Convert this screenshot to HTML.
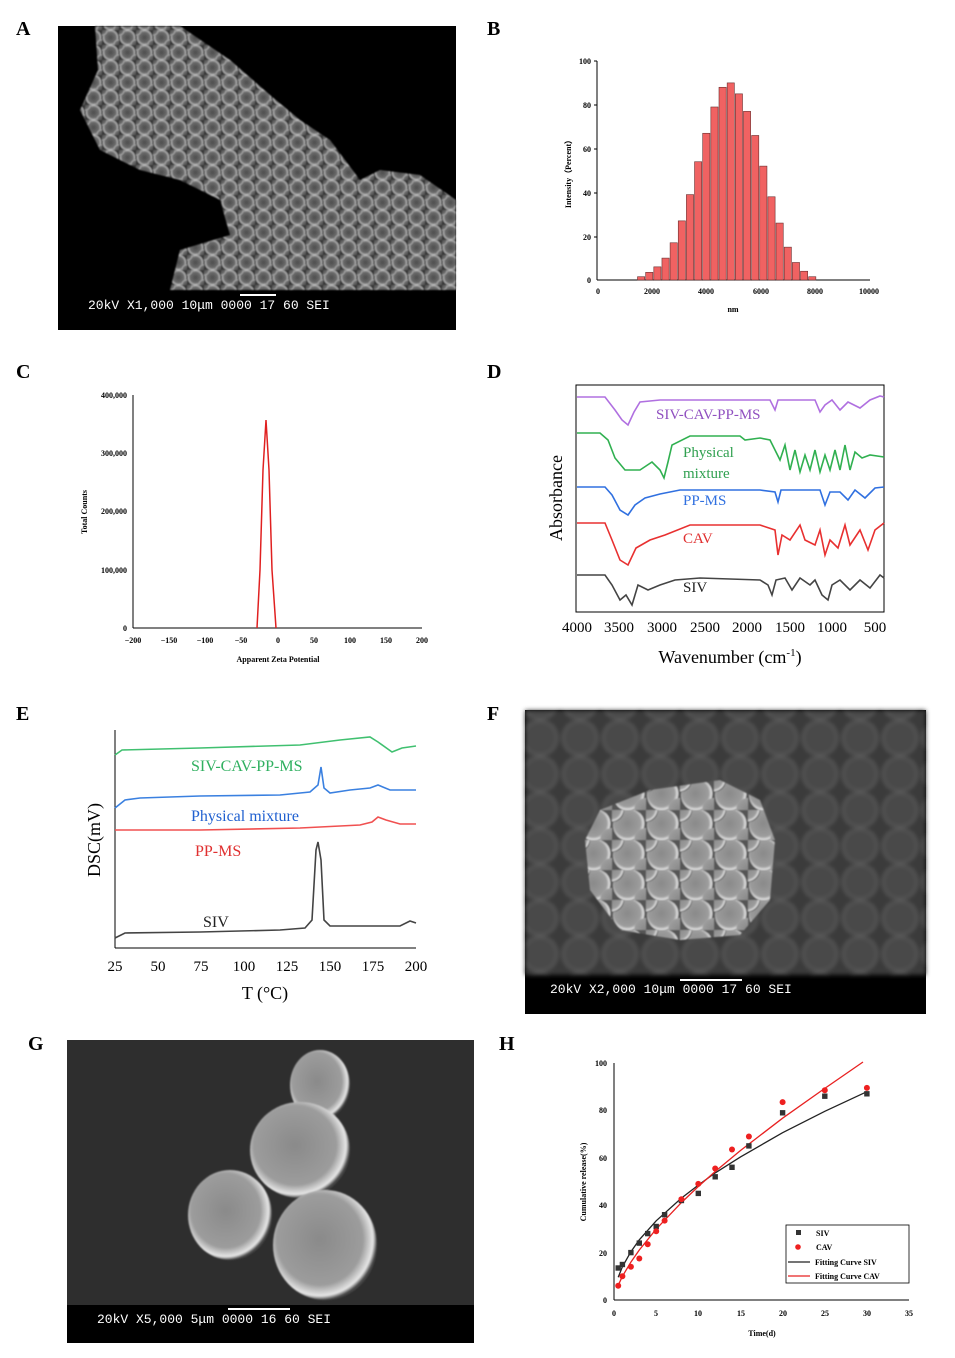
<!DOCTYPE html>
<html><head><meta charset="utf-8"><style>
body{margin:0;background:#fff}
svg{display:block}
text{font-family:"Liberation Serif",serif}
.m{font-family:"Liberation Mono",monospace;fill:#fff;font-size:13px}
.t{font-size:8px;font-weight:bold}
</style></head><body>
<svg width="955" height="1358" viewBox="0 0 955 1358" xmlns="http://www.w3.org/2000/svg">
<defs>
<filter id="bl"><feGaussianBlur stdDeviation="0.9"/></filter>
<filter id="bl2"><feGaussianBlur stdDeviation="2"/></filter>
<radialGradient id="sph" cx="0.5" cy="0.5" r="0.5"><stop offset="0" stop-color="#555"/><stop offset="0.7" stop-color="#7a7a7a"/><stop offset="0.92" stop-color="#d8d8d8"/><stop offset="1" stop-color="#333"/></radialGradient>
<radialGradient id="sph2" cx="0.45" cy="0.45" r="0.55"><stop offset="0" stop-color="#8a8a8a"/><stop offset="0.75" stop-color="#9c9c9c"/><stop offset="0.93" stop-color="#e6e6e6"/><stop offset="1" stop-color="#444"/></radialGradient>
<pattern id="pA" width="17" height="15" patternUnits="userSpaceOnUse"><rect width="17" height="15" fill="#3a3a3a"/><circle cx="8.5" cy="7.5" r="8" fill="url(#sph)"/><circle cx="0" cy="0" r="6" fill="url(#sph)"/><circle cx="17" cy="15" r="6" fill="url(#sph)"/></pattern>
<pattern id="pF" width="34" height="30" patternUnits="userSpaceOnUse"><rect width="34" height="30" fill="#555"/><circle cx="17" cy="15" r="16" fill="url(#sph2)"/><circle cx="0" cy="0" r="12" fill="url(#sph2)"/><circle cx="34" cy="30" r="12" fill="url(#sph2)"/></pattern>
<pattern id="pF2" width="40" height="36" patternUnits="userSpaceOnUse"><rect width="40" height="36" fill="#3a3a3a"/><circle cx="20" cy="18" r="17" fill="#4a4a4a" stroke="#5c5c5c" stroke-width="2"/></pattern>
</defs>

<g font-size="20" font-weight="bold" font-family="Liberation Serif">
<text x="16" y="35">A</text><text x="487" y="35">B</text>
<text x="16" y="378">C</text><text x="487" y="378">D</text>
<text x="16" y="720">E</text><text x="487" y="720">F</text>
<text x="28" y="1050">G</text><text x="499" y="1050">H</text>
</g>

<!-- A SEM -->
<rect x="58" y="26" width="398" height="304" fill="#000"/>
<polygon filter="url(#bl)" points="95,26 180,26 230,60 270,95 300,120 330,140 360,180 380,170 420,175 456,200 456,290 170,290 180,250 230,235 220,200 180,180 140,170 100,150 80,110 98,70" fill="url(#pA)" opacity="0.9"/>
<rect x="240" y="294" width="36" height="2" fill="#fff"/>
<text class="m" x="88" y="309">20kV   X1,000  10μm 0000 17 60 SEI</text>

<!-- B histogram -->
<g stroke="#000" stroke-width="1" fill="none">
<line x1="597" y1="61" x2="597" y2="280"/><line x1="597" y1="280" x2="870" y2="280"/>
<line x1="594" y1="61" x2="597" y2="61"/><line x1="594" y1="105" x2="597" y2="105"/><line x1="594" y1="149" x2="597" y2="149"/><line x1="594" y1="193" x2="597" y2="193"/><line x1="594" y1="237" x2="597" y2="237"/>
</g>
<g fill="#f06262" stroke="#6a3030" stroke-width="0.6" id="bars"></g>
<g class="t" text-anchor="end"><text x="591" y="64">100</text><text x="591" y="108">80</text><text x="591" y="152">60</text><text x="591" y="196">40</text><text x="591" y="240">20</text><text x="591" y="283">0</text></g>
<g class="t" text-anchor="middle"><text x="598" y="294">0</text><text x="652" y="294">2000</text><text x="706" y="294">4000</text><text x="761" y="294">6000</text><text x="815" y="294">8000</text><text x="869" y="294">10000</text><text x="733" y="312">nm</text></g>
<text class="t" transform="translate(571,172) rotate(-90)" text-anchor="middle">Intensity（Percent）</text>

<!-- C -->
<g stroke="#000" stroke-width="1"><line x1="133" y1="395" x2="133" y2="628"/><line x1="133" y1="628" x2="422" y2="628"/></g>
<g class="t" text-anchor="end"><text x="127" y="398">400,000</text><text x="127" y="456">300,000</text><text x="127" y="514">200,000</text><text x="127" y="573">100,000</text><text x="127" y="631">0</text></g>
<g class="t" text-anchor="middle"><text x="133" y="643">−200</text><text x="169" y="643">−150</text><text x="205" y="643">−100</text><text x="241" y="643">−50</text><text x="278" y="643">0</text><text x="314" y="643">50</text><text x="350" y="643">100</text><text x="386" y="643">150</text><text x="422" y="643">200</text></g>
<text class="t" x="278" y="662" text-anchor="middle" font-size="9">Apparent Zeta Potential</text>
<text class="t" transform="translate(87,512) rotate(-90)" text-anchor="middle">Total Counts</text>
<path d="M257,628 L260,570 263,470 266,420 269,470 272,570 276,628" stroke="#e02020" stroke-width="1.5" fill="none"/>

<!-- D FTIR -->
<rect x="576" y="385" width="308" height="227" fill="none" stroke="#000" stroke-width="1"/>
<g fill="none" stroke-width="1.6">
<path stroke="#b070e0" d="M577,397 L605,397 615,410 622,420 628,425 634,412 640,402 660,400 700,400 770,400 775,410 778,400 815,400 820,412 825,405 832,400 840,410 848,402 860,408 870,400 880,396 884,397"/>
<path stroke="#30b050" d="M577,433 L600,433 608,440 615,458 625,470 640,470 652,462 660,470 664,478 668,462 672,445 690,436 740,436 745,440 760,438 770,440 775,450 780,460 785,445 790,470 795,450 800,472 805,455 810,470 815,450 820,472 825,455 830,470 835,450 840,470 845,445 850,470 855,452 862,458 870,455 884,457"/>
<path stroke="#3070e0" d="M577,487 L605,487 612,495 620,510 628,515 635,505 645,498 660,494 680,490 700,490 760,490 775,492 778,502 781,490 820,490 825,505 830,492 840,492 848,500 855,490 865,498 875,488 884,487"/>
<path stroke="#e83030" d="M577,523 L605,523 612,540 620,560 628,565 636,548 650,540 665,535 690,525 760,525 775,530 778,555 782,535 790,540 800,525 805,540 815,545 820,530 825,555 830,540 838,548 845,525 850,545 860,530 868,550 875,530 884,523"/>
<path stroke="#444" d="M577,575 L605,575 612,585 620,600 626,595 632,605 638,585 648,590 660,585 675,580 700,578 760,580 768,585 772,595 776,580 785,578 792,590 800,578 810,585 815,580 822,595 828,600 832,585 840,580 850,590 860,580 870,588 880,575 884,578"/>
</g>
<g font-size="15"><text x="656" y="419" fill="#9050c0">SIV-CAV-PP-MS</text><text x="683" y="457" fill="#30a050">Physical</text><text x="683" y="478" fill="#30a050">mixture</text><text x="683" y="505" fill="#3070e0">PP-MS</text><text x="683" y="543" fill="#e03030">CAV</text><text x="683" y="592" fill="#222">SIV</text></g>
<g font-size="15" text-anchor="middle"><text x="577" y="632">4000</text><text x="619" y="632">3500</text><text x="662" y="632">3000</text><text x="705" y="632">2500</text><text x="747" y="632">2000</text><text x="790" y="632">1500</text><text x="832" y="632">1000</text><text x="875" y="632">500</text></g>
<text x="730" y="663" font-size="18" text-anchor="middle">Wavenumber (cm<tspan font-size="11" dy="-7">-1</tspan><tspan dy="7">)</tspan></text>
<text transform="translate(562,498) rotate(-90)" font-size="18" text-anchor="middle">Absorbance</text>

<!-- E DSC -->
<g stroke="#000" stroke-width="1"><line x1="115" y1="730" x2="115" y2="948"/><line x1="115" y1="948" x2="416" y2="948"/></g>
<g fill="none" stroke-width="1.6">
<path stroke="#40c070" d="M115,755 L122,750 200,748 300,745 340,740 370,737 378,742 392,752 402,748 416,746"/>
<path stroke="#3a80e0" d="M115,808 L125,800 140,798 200,796 280,795 310,792 318,785 321,767 324,788 330,793 350,790 370,788 378,785 390,790 416,790"/>
<path stroke="#f05050" d="M115,830 L200,830 300,828 360,825 372,822 378,817 386,820 400,824 416,824"/>
<path stroke="#444" d="M115,938 L125,933 200,932 280,930 305,928 312,920 316,850 318,842 321,860 324,920 330,926 400,926 410,921 416,923"/>
</g>
<g font-size="16"><text x="191" y="771" fill="#30b060">SIV-CAV-PP-MS</text><text x="191" y="821" fill="#2060d0">Physical mixture</text><text x="195" y="856" fill="#e03030">PP-MS</text><text x="203" y="927" fill="#222">SIV</text></g>
<g font-size="15" text-anchor="middle"><text x="115" y="971">25</text><text x="158" y="971">50</text><text x="201" y="971">75</text><text x="244" y="971">100</text><text x="287" y="971">125</text><text x="330" y="971">150</text><text x="373" y="971">175</text><text x="416" y="971">200</text></g>
<text x="265" y="999" font-size="18" text-anchor="middle">T (°C)</text>
<text transform="translate(100,840) rotate(-90)" font-size="18" text-anchor="middle">DSC(mV)</text>

<!-- F SEM -->
<rect x="525" y="710" width="401" height="304" fill="#000"/>
<rect x="525" y="710" width="401" height="265" fill="url(#pF2)" filter="url(#bl2)"/>
<polygon filter="url(#bl)" points="600,810 650,790 720,780 760,800 775,840 770,900 740,935 680,940 620,930 590,890 585,840" fill="url(#pF)"/>
<rect x="680" y="979" width="62" height="2" fill="#fff"/>
<text class="m" x="550" y="993">20kV   X2,000  10μm 0000 17 60 SEI</text>

<!-- G SEM -->
<rect x="67" y="1040" width="407" height="303" fill="#000"/>
<rect x="67" y="1040" width="407" height="265" fill="#2e2e2e"/>
<g fill="url(#sph2)" filter="url(#bl)">
<ellipse cx="320" cy="1085" rx="30" ry="35"/>
<ellipse cx="230" cy="1215" rx="42" ry="45"/>
<ellipse cx="300" cy="1150" rx="50" ry="48"/>
<ellipse cx="325" cy="1245" rx="52" ry="55"/>
</g>
<rect x="228" y="1308" width="62" height="2" fill="#fff"/>
<text class="m" x="97" y="1323">20kV   X5,000   5μm 0000 16 60 SEI</text>

<!-- H release -->
<g stroke="#000" stroke-width="1"><line x1="614" y1="1063" x2="614" y2="1300"/><line x1="614" y1="1300" x2="909" y2="1300"/></g>
<g class="t" text-anchor="end"><text x="607" y="1066">100</text><text x="607" y="1113">80</text><text x="607" y="1161">60</text><text x="607" y="1208">40</text><text x="607" y="1256">20</text><text x="607" y="1303">0</text></g>
<g class="t" text-anchor="middle"><text x="614" y="1316">0</text><text x="656" y="1316">5</text><text x="698" y="1316">10</text><text x="741" y="1316">15</text><text x="783" y="1316">20</text><text x="825" y="1316">25</text><text x="867" y="1316">30</text><text x="909" y="1316">35</text></g>
<text class="t" x="762" y="1336" text-anchor="middle" font-size="10">Time(d)</text>
<text class="t" transform="translate(586,1182) rotate(-90)" text-anchor="middle" font-size="9">Cumulative release(%)</text>
<polyline fill="none" stroke="#222" stroke-width="1.3" points="618.2,1277.2 622.4,1266.8 630.9,1251.7 639.3,1239.8 656.2,1220.8 681.4,1198.1 698.3,1185.1 715.2,1172.9 740.5,1156.9 782.6,1132.7 824.8,1111.3 866.9,1091.7"/>
<polyline fill="none" stroke="#e82020" stroke-width="1.3" points="618.2,1285.3 622.4,1276.3 630.9,1262.1 639.3,1250 656.2,1229.1 681.4,1202.6 698.3,1186.5 715.2,1171.5 740.5,1150.5 782.6,1118.2 824.8,1088.4 863,1062"/>
<g fill="#333" id="sq"></g>
<g fill="#ee2020" id="ci"></g>
<rect x="786" y="1225" width="123" height="58" fill="#fff" stroke="#000" stroke-width="0.8"/>
<rect x="796" y="1230" width="5" height="5" fill="#333"/><circle cx="798" cy="1247" r="2.8" fill="#ee2020"/>
<line x1="788" y1="1262" x2="810" y2="1262" stroke="#222" stroke-width="1.3"/><line x1="788" y1="1276" x2="810" y2="1276" stroke="#e82020" stroke-width="1.3"/>
<g class="t" font-size="9"><text x="816" y="1236">SIV</text><text x="816" y="1250">CAV</text><text x="815" y="1265">Fitting Curve SIV</text><text x="815" y="1279">Fitting Curve CAV</text></g>
</svg>
<script>
var ns="http://www.w3.org/2000/svg";
var h=[1.5,3.5,6,10,17,27,39,54,67,79,88,90,85,77,66,52,38,26,15,8,4,1.5],b=document.getElementById("bars");
h.forEach(function(v,i){var r=document.createElementNS(ns,"rect");var x=637.5+i*8.15;r.setAttribute("x",x);r.setAttribute("width",7.2);r.setAttribute("y",280-v*2.19);r.setAttribute("height",v*2.19);b.appendChild(r);});
var xs=[618.2,622.4,630.9,639.3,647.7,656.2,664.6,681.4,698.3,715.2,732,748.9,782.6,824.8,866.9];
var sy=[1268,1264.5,1252.6,1243.1,1233.6,1226.5,1214.7,1200.5,1193.4,1176.8,1167.3,1145.9,1112.8,1096.2,1093.8];
var cy=[1285.8,1276.3,1266.8,1258.5,1244.3,1231.3,1220.6,1199.3,1183.9,1168.5,1149.5,1136.5,1102.1,1090.3,1087.9];
var sq=document.getElementById("sq"),ci=document.getElementById("ci");
xs.forEach(function(x,i){var r=document.createElementNS(ns,"rect");r.setAttribute("x",x-2.7);r.setAttribute("y",sy[i]-2.7);r.setAttribute("width",5.4);r.setAttribute("height",5.4);sq.appendChild(r);
var c=document.createElementNS(ns,"circle");c.setAttribute("cx",x);c.setAttribute("cy",cy[i]);c.setAttribute("r",3);ci.appendChild(c);});
</script>
</body></html>
